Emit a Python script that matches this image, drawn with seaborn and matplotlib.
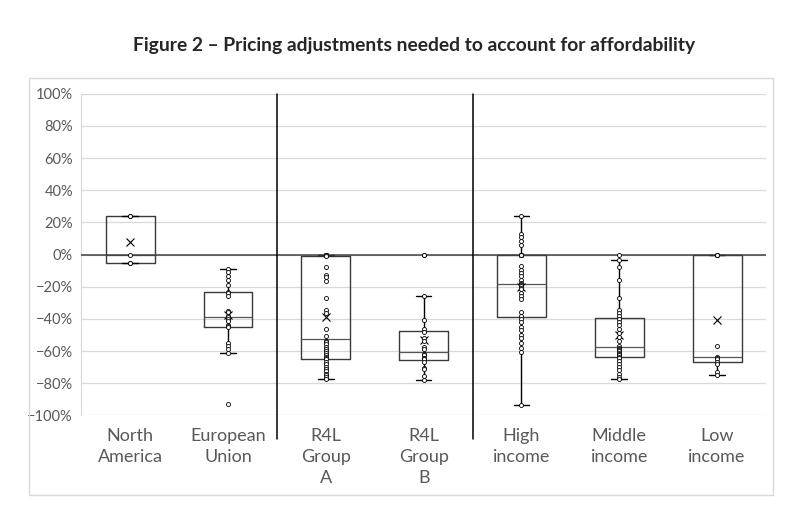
import numpy as np
import pandas as pd
import seaborn as sns
import matplotlib
matplotlib.use('Agg')
import matplotlib.pyplot as plt
from matplotlib.patches import Rectangle
from matplotlib.ticker import PercentFormatter

# values (price adjustment, %)
north_america = [24, 24, 0, -5, -5]
european_union = [-9, -11, -13, -16, -19, -23, -24, -26, -35, -36, -38, -39,
                  -40, -41, -44, -44.5, -45, -55, -57, -59, -61, -93]
r4l_group_a = [0, 0, 0, 0, 0, 0, 0, 0, 0, 0,
               -1, -7.6, -12.4, -14.2, -16.5, -27.2, -34.7, -36.1, -46.4, -50.6,
               -53.8, -54.5, -55.5, -57.2, -58.8, -60, -61, -62.5, -63.5, -64.5,
               -65.2, -66.5, -68, -70.1, -71, -72.2, -74.2, -75, -76.3, -77.4]
r4l_group_b = [0, 0, -25.8, -40.4, -46, -48.1, -51.6, -53.7, -57.2, -59, -61.5,
               -62.5, -64, -64.5, -65, -66.5, -70.2, -71.2, -75.3, -78]
high_income = [24.3, 12.8, 10.7, 8.3, 5.8, 0, 0, 0, 0, 0, 0, 0, 0, 0,
               -7.2, -9.3, -11.4, -13.4, -15.5, -17.9, -18.5, -19, -19.6, -20.5,
               -21.7, -23.7, -25.8, -27.9, -35.5, -38.4, -40, -42, -45, -47,
               -50, -52, -55, -58, -60.5, -93.3]
middle_income = [0, -3.5, -7.6, -16.1, -27.2, -34.5, -36.1, -38.2,
                 -40, -42, -44, -46, -48.5, -51, -54, -56.6,
                 -57.8, -58.5, -59.5, -60, -61, -61.5, -62.5, -63.5,
                 -64, -66, -68, -70, -72, -74, -76, -77.4]
low_income = [0, 0, 0, 0, 0, -57, -63.5, -64, -65, -66.5, -68, -73, -75]

categories = ['North\nAmerica', 'European\nUnion', 'R4L\nGroup\nA', 'R4L\nGroup\nB',
              'High\nincome', 'Middle\nincome', 'Low\nincome']
series = [north_america, european_union, r4l_group_a, r4l_group_b,
          high_income, middle_income, low_income]

df = pd.DataFrame({
    'group': np.repeat(categories, [len(s) for s in series]),
    'value': np.concatenate(series),
})

sns.set_style('white')
plt.rcParams['font.family'] = ['Lato', 'DejaVu Sans']

fig = plt.figure(figsize=(8.01, 5.18), dpi=100)
ax = fig.add_axes([0.1015, 0.198, 0.8548, 0.621])

line_c = '#3a3a3a'
sns.boxplot(data=df, x='group', y='value', order=categories, ax=ax,
            width=0.5, whis=1.5, showfliers=False, fill=False, color=line_c,
            linewidth=1.0, showmeans=True, capwidths=0.16,
            meanprops=dict(marker='x', markeredgecolor='black', markersize=6,
                           markeredgewidth=0.8),
            medianprops=dict(color='#555555', linewidth=0.9),
            whiskerprops=dict(color='black', linewidth=1),
            capprops=dict(color='black', linewidth=1))
sns.stripplot(data=df, x='group', y='value', order=categories, ax=ax,
              jitter=False, color='white', edgecolor='black', linewidth=0.6,
              size=2.9, zorder=4)

ax.set_ylim(-100, 100)
ax.set_xlim(-0.5, 6.5)
ax.set_yticks(np.arange(-100, 101, 20))
ax.yaxis.set_major_formatter(PercentFormatter(decimals=0))
ax.grid(axis='y', color='#d9d9d9', linewidth=0.9)
ax.set_axisbelow(True)
ax.axhline(0, color='#404040', linewidth=1.1, zorder=3)
for xsep in [1.5, 3.5]:
    ax.axvline(xsep, ymin=-0.074, ymax=1, color='black', linewidth=1.1,
               clip_on=False, zorder=5)

for side in ['top', 'right', 'bottom']:
    ax.spines[side].set_visible(False)
ax.spines['left'].set_color('#d9d9d9')
ax.tick_params(axis='y', length=0, pad=6, labelsize=10.5, labelcolor='#595959')
ax.tick_params(axis='x', length=0, pad=9, labelsize=13, labelcolor='#595959')
for lab in ax.get_xticklabels():
    lab.set_linespacing(1.4)
ax.set_xlabel('')
ax.set_ylabel('')

fig.patches.append(Rectangle((0.0356, 0.0444), 0.9295, 0.805, transform=fig.transFigure,
                             fill=False, edgecolor='#d9d9d9', linewidth=1))
fig.text(0.517, 0.913, 'Figure 2 – Pricing adjustments needed to account for affordability',
         ha='center', va='center', fontsize=13.9, fontweight='bold')

fig.savefig('out.png', dpi=100)
